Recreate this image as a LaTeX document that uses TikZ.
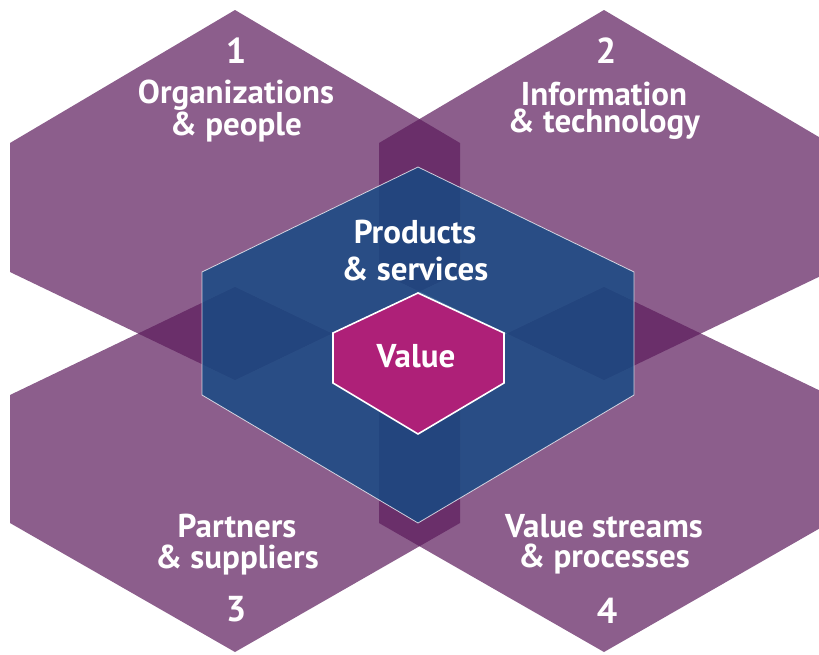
\documentclass[tikz,border=0pt]{standalone}
\usepackage{fontspec}
\setmainfont{PT Sans}
\usepackage{tikz}
\definecolor{petalFill}{HTML}{5B1A5B}
\definecolor{coreFill}{HTML}{124A83}
\definecolor{valueFill}{HTML}{AE2078}

\begin{document}
\begin{tikzpicture}[
    x=1pt, y=-1pt,
    petal/.style={fill=petalFill, fill opacity=0.7},
    core/.style={fill=coreFill, fill opacity=0.8, draw=white, draw opacity=0.75, line width=0.8pt},
    valuehex/.style={fill=valueFill, draw=white, line width=1.6pt},
    areatext/.style={text=white, align=center, inner sep=0pt, font=\bfseries\fontsize{33}{#1}\selectfont},
    areatext/.default=27,
    areanum/.style={text=white, inner sep=0pt, font=\bfseries\fontsize{36}{36}\selectfont}
]
    \useasboundingbox (0,0) rectangle (819,654);
    \clip (0,0) rectangle (819,654);

    % Four dimensions
    \fill[petal, shift={(235,0)}] (0,10) -- (225,143) -- (225,272) -- (0,380) -- (-225,272) -- (-225,143) -- cycle;
    \fill[petal, shift={(604,0)}] (0,10) -- (225,143) -- (225,272) -- (0,380) -- (-225,272) -- (-225,143) -- cycle;
    \fill[petal, shift={(235,0)}] (0,287) -- (225,395) -- (225,523) -- (0,652) -- (-225,523) -- (-225,395) -- cycle;
    \fill[petal, shift={(604,0)}] (0,287) -- (225,395) -- (225,523) -- (0,652) -- (-225,523) -- (-225,395) -- cycle;

    % Products & services, value
    \draw[core, shift={(418,0)}] (0,167) -- (216,272) -- (216,395) -- (0,523) -- (-216,395) -- (-216,272) -- cycle;
    \draw[valuehex, shift={(418,0)}] (0,293) -- (86,333) -- (86,383) -- (0,434) -- (-85,383) -- (-85,333) -- cycle;

    % Texts
    \node[areanum] (num1) at (236,51) {1};
    \node[areatext] (org) at (236,111) {Organizations\\\& people};
    \node[areanum] (num2) at (606,51) {2};
    \node[areatext] (info) at (604,111) {Information\\\& technology};
    \node[areatext=37] (prod) at (415,251) {Products\\\& services};
    \node[areatext] (value) at (416,356) {Value};
    \node[areatext=31] (partners) at (237,545) {Partners\\\& suppliers};
    \node[areanum] (num3) at (236,609) {3};
    \node[areatext=30] (streams) at (604,544) {Value streams\\\& processes};
    \node[areanum] (num4) at (607,611) {4};

\end{tikzpicture}
\end{document}
